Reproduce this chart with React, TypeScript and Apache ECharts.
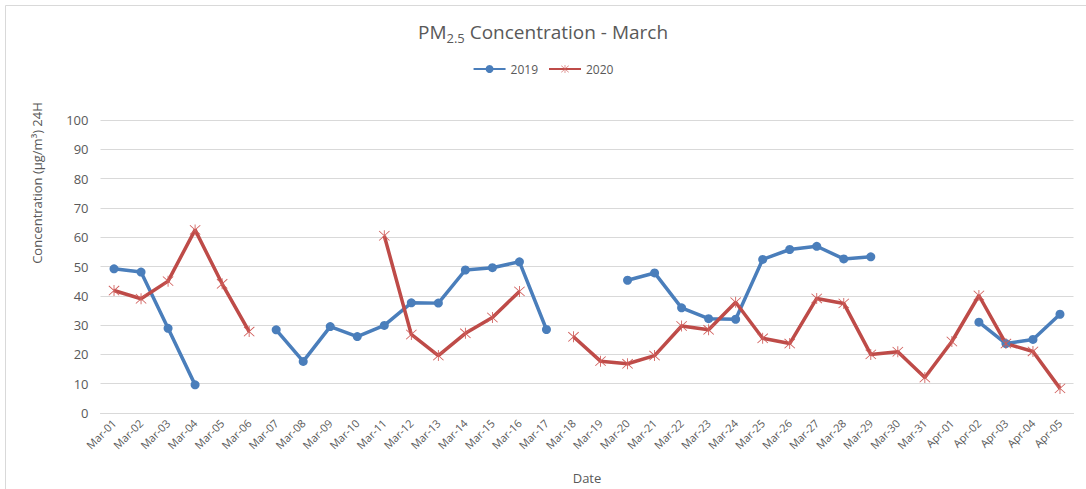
import React, { useEffect, useRef } from "react";
import * as echarts from "echarts";

const categories = [
  "Mar-01","Mar-02","Mar-03","Mar-04","Mar-05","Mar-06","Mar-07","Mar-08","Mar-09","Mar-10",
  "Mar-11","Mar-12","Mar-13","Mar-14","Mar-15","Mar-16","Mar-17","Mar-18","Mar-19","Mar-20",
  "Mar-21","Mar-22","Mar-23","Mar-24","Mar-25","Mar-26","Mar-27","Mar-28","Mar-29","Mar-30",
  "Mar-31","Apr-01","Apr-02","Apr-03","Apr-04","Apr-05",
];

const values2019: (number | null)[] = [
  49.2, 48.1, 28.9, 9.6, null, null, 28.4, 17.6, 29.5, 26.1,
  29.9, 37.6, 37.5, 48.8, 49.6, 51.6, 28.5, null, null, 45.3,
  47.8, 35.9, 32.2, 32.0, 52.4, 55.8, 56.9, 52.6, 53.3, null,
  null, null, 31.0, 23.7, 25.1, 33.7,
];

const values2020: (number | null)[] = [
  41.8, 39.0, 45.0, 62.5, 44.1, 27.8, null, null, null, null,
  60.5, 26.8, 19.6, 27.2, 32.6, 41.5, null, 26.0, 17.7, 16.8,
  19.6, 29.7, 28.4, 37.8, 25.5, 23.7, 39.1, 37.4, 20.0, 20.9,
  12.1, 24.4, 40.1, 23.7, 21.0, 8.4,
];

const yTicks = { min: 0, max: 100, interval: 10 };

const starPath =
  "path://M1,2 L2,1 L19,18 L18,19 Z M18,1 L19,2 L2,19 L1,18 Z M9.3,0 L10.7,0 L10.7,20 L9.3,20 Z";

const FONT = "'Open Sans', Lato, sans-serif";
const TEXT = "#595959";

export default function App() {
  const ref = useRef<HTMLDivElement>(null);
  useEffect(() => {
    if (!ref.current) return;
    const chart = echarts.init(ref.current, null, { renderer: "svg" });
    chart.setOption({
      animation: false,
      backgroundColor: "#ffffff",
      textStyle: { fontFamily: FONT },
      title: {
        text: "PM{sub|2.5} Concentration - March",
        left: "center",
        top: 14,
        textStyle: {
          fontFamily: FONT,
          fontSize: 19,
          fontWeight: "normal",
          color: TEXT,
          rich: {
            sub: { fontSize: 13, color: TEXT, fontFamily: FONT, verticalAlign: "bottom", padding: [12, 0, 0, 0] },
          },
        },
      },
      legend: {
        top: 58,
        left: "center",
        itemWidth: 32,
        itemHeight: 10,
        itemGap: 10,
        textStyle: { fontFamily: FONT, fontSize: 12, color: TEXT },
        data: ["2019", "2020"],
      },
      grid: { left: 100.5, right: 12.5, top: 120, bottom: 75, containLabel: false },
      xAxis: {
        type: "category",
        data: categories,
        boundaryGap: true,
        axisLine: { show: true, lineStyle: { color: "#d9d9d9", width: 1 } },
        axisTick: { show: false },
        axisLabel: { rotate: 45, fontSize: 11, color: TEXT, fontFamily: FONT, interval: 0, margin: 8 },
        name: "Date",
        nameLocation: "middle",
        nameGap: 58,
        nameTextStyle: { fontSize: 13, color: TEXT, fontFamily: FONT },
      },
      yAxis: {
        type: "value",
        min: yTicks.min,
        max: yTicks.max,
        interval: yTicks.interval,
        axisLine: { show: false },
        axisTick: { show: false },
        axisLabel: { fontSize: 13, color: TEXT, fontFamily: FONT, margin: 12 },
        splitLine: { lineStyle: { color: "#d9d9d9", width: 1 } },
      },
      graphic: [
        {
          type: "rect",
          shape: { x: 5.5, y: 5.5, width: 1100, height: 520 },
          style: { fill: "none", stroke: "#d9d9d9", lineWidth: 1 },
          silent: true,
        },
        {
          type: "text",
          x: 37,
          y: 183,
          rotation: Math.PI / 2,
          style: {
            text: "Concentration (μg/m³) 24H",
            fill: TEXT,
            fontSize: 13,
            fontFamily: FONT,
            align: "center",
            verticalAlign: "middle",
          },
        },
      ],
      series: [
        {
          name: "2019",
          type: "line",
          data: values2019,
          connectNulls: false,
          symbol: "circle",
          symbolSize: 9,
          showSymbol: true,
          lineStyle: { color: "#4a7ebb", width: 3.5 },
          itemStyle: { color: "#4a7ebb" },
        },
        {
          name: "2020",
          type: "line",
          data: values2020,
          connectNulls: false,
          symbol: starPath,
          symbolSize: 11,
          showSymbol: true,
          lineStyle: { color: "#be4b48", width: 3.5 },
          itemStyle: { color: "#cf5c59" },
        },
      ],
    });
    return () => chart.dispose();
  }, []);
  return (
    <div
      ref={ref}
      style={{ position: "fixed", left: 0, top: 0, width: 1086, height: 489 }}
    />
  );
}
